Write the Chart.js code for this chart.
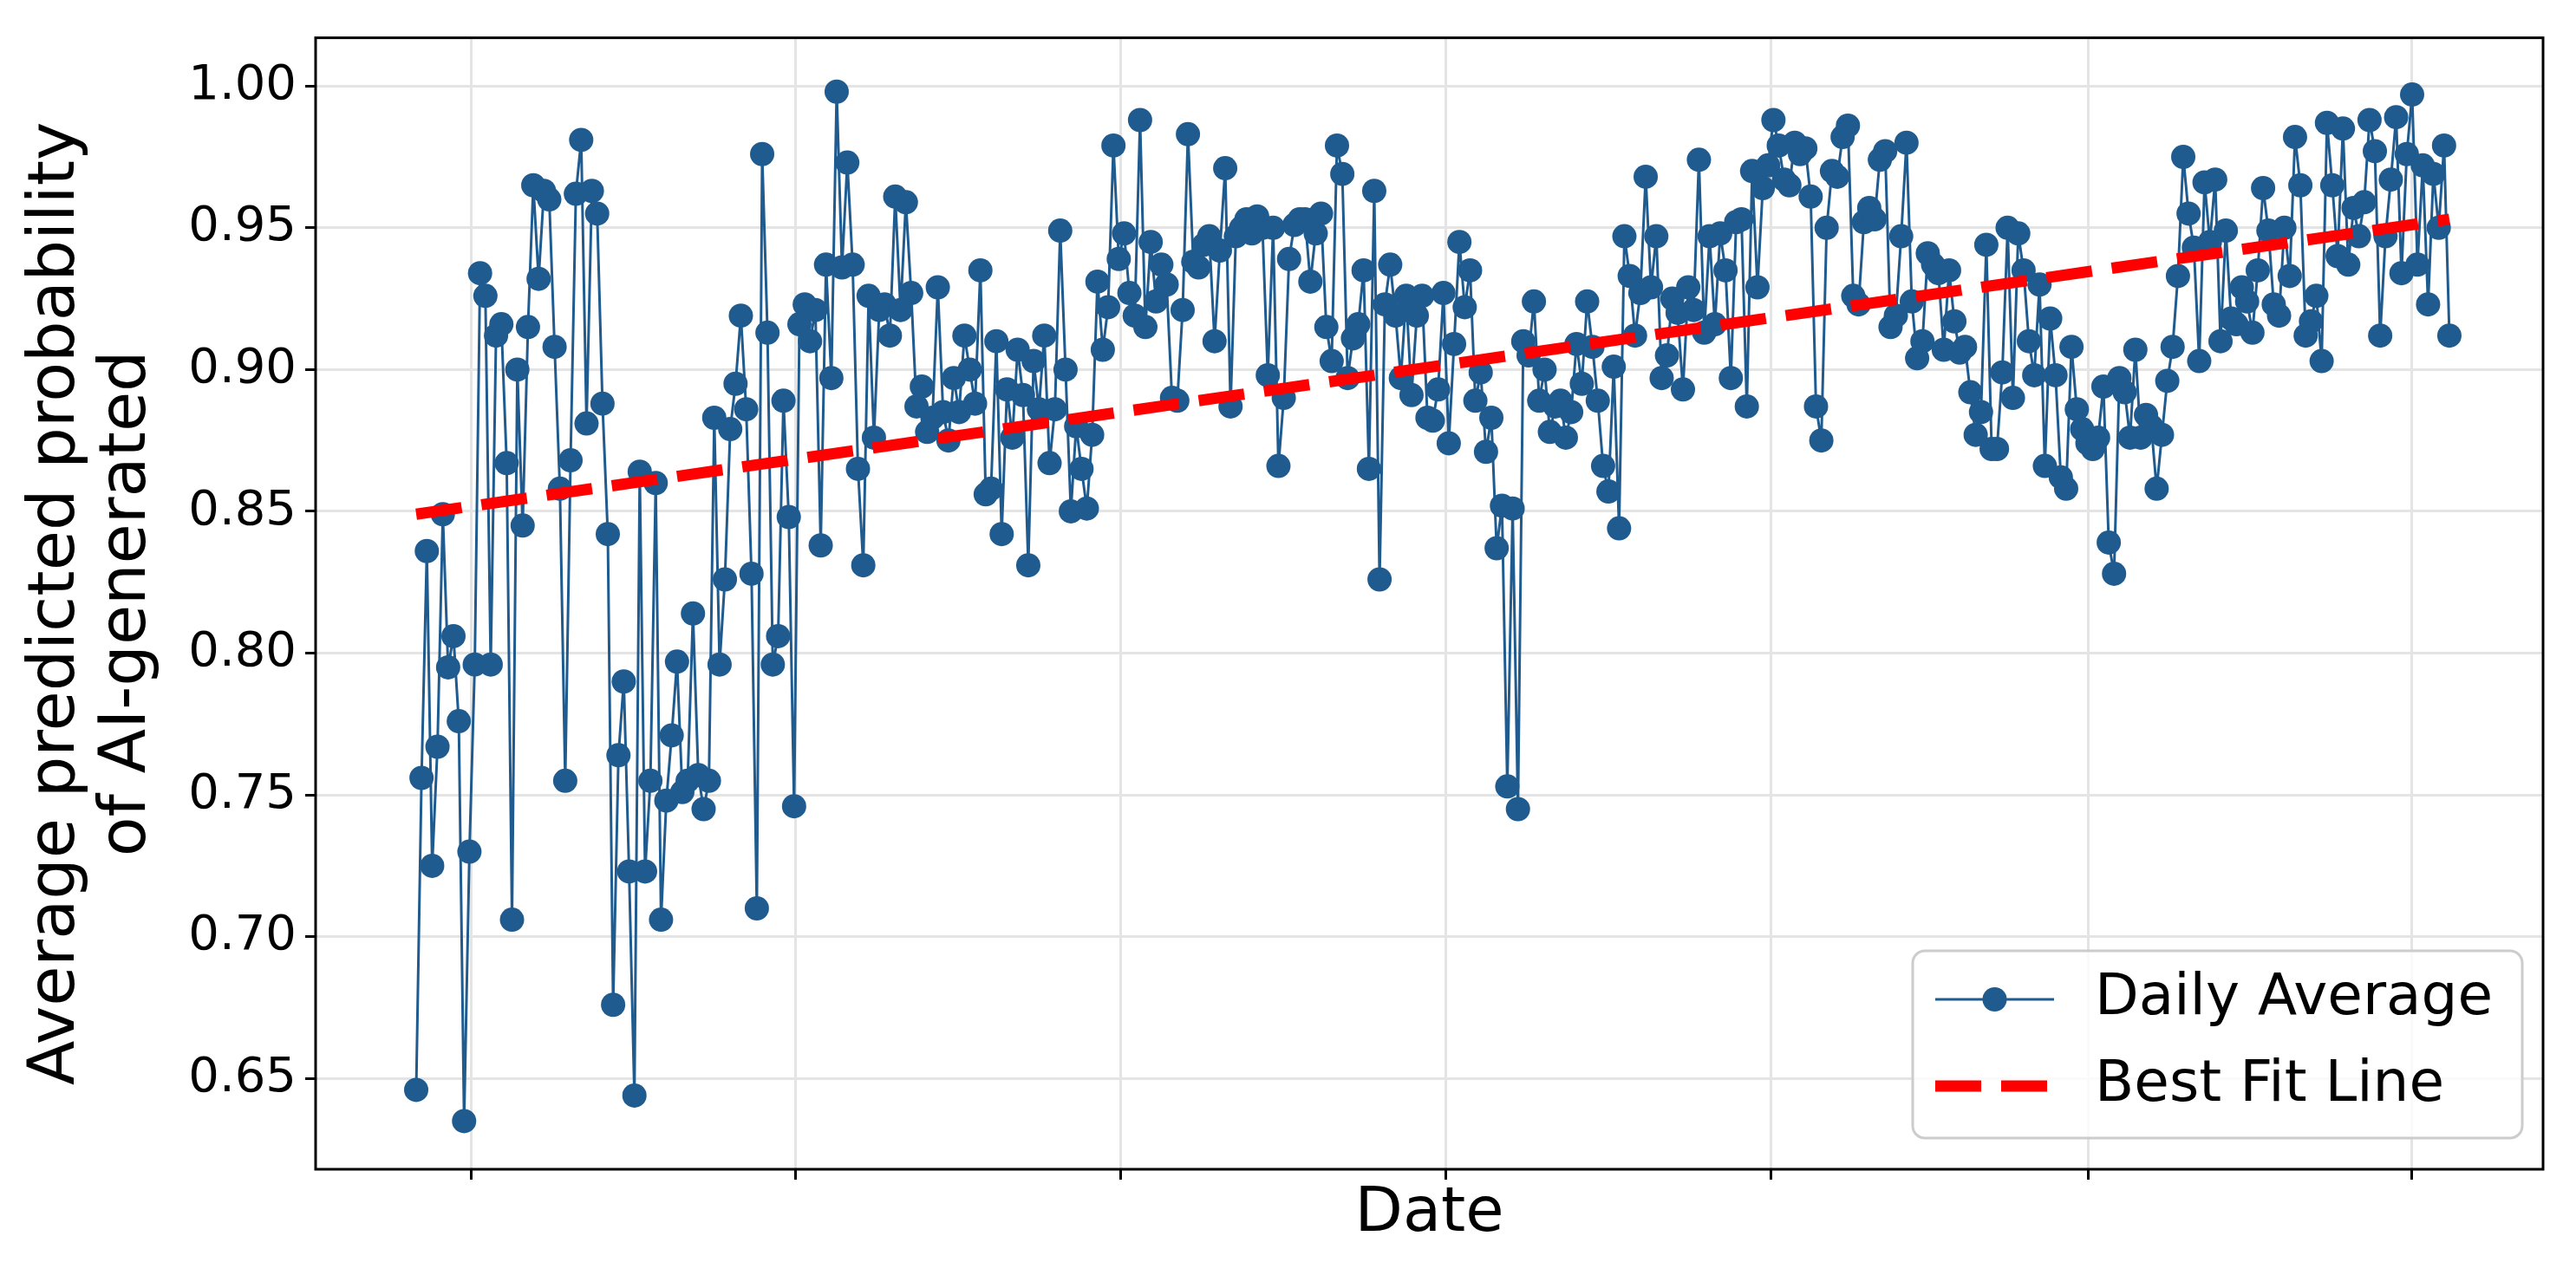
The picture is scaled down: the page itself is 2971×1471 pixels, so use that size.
<!DOCTYPE html>
<html>
<head>
<meta charset="utf-8">
<script src="https://cdn.jsdelivr.net/npm/chart.js@4.4.1/dist/chart.umd.min.js"></script>
<style>
  html, body { margin: 0; padding: 0; background: #fff; }
  #wrap { width: 2971px; height: 1471px; }
</style>
</head>
<body>
<div id="wrap"><canvas id="chart" width="2971" height="1471"></canvas></div>
<script>
// daily average predicted probability, one value per day
const dailyAverage = [
  0.646, 0.756, 0.836, 0.725, 0.767, 0.849, 0.795, 0.806, 0.776, 0.635,
  0.730, 0.796, 0.934, 0.926, 0.796, 0.912, 0.916, 0.867, 0.706, 0.900,
  0.845, 0.915, 0.965, 0.932, 0.963, 0.960, 0.908, 0.858, 0.755, 0.868,
  0.962, 0.981, 0.881, 0.963, 0.955, 0.888, 0.842, 0.676, 0.764, 0.790,
  0.723, 0.644, 0.864, 0.723, 0.755, 0.860, 0.706, 0.748, 0.771, 0.797,
  0.751, 0.755, 0.814, 0.757, 0.745, 0.755, 0.883, 0.796, 0.826, 0.879,
  0.895, 0.919, 0.886, 0.828, 0.710, 0.976, 0.913, 0.796, 0.806, 0.889,
  0.848, 0.746, 0.916, 0.923, 0.910, 0.921, 0.838, 0.937, 0.897, 0.998,
  0.936, 0.973, 0.937, 0.865, 0.831, 0.926, 0.876, 0.921, 0.923, 0.912,
  0.961, 0.921, 0.959, 0.927, 0.887, 0.894, 0.878, 0.883, 0.929, 0.885,
  0.875, 0.897, 0.885, 0.912, 0.900, 0.888, 0.935, 0.856, 0.858, 0.910,
  0.842, 0.893, 0.876, 0.907, 0.891, 0.831, 0.903, 0.886, 0.912, 0.867,
  0.886, 0.949, 0.900, 0.850, 0.880, 0.865, 0.851, 0.877, 0.931, 0.907,
  0.922, 0.979, 0.939, 0.948, 0.927, 0.919, 0.988, 0.915, 0.945, 0.924,
  0.937, 0.930, 0.890, 0.889, 0.921, 0.983, 0.938, 0.936, 0.944, 0.947,
  0.910, 0.942, 0.971, 0.887, 0.947, 0.950, 0.953, 0.948, 0.954, 0.950,
  0.898, 0.950, 0.866, 0.890, 0.939, 0.951, 0.953, 0.953, 0.931, 0.948,
  0.955, 0.915, 0.903, 0.979, 0.969, 0.897, 0.911, 0.916, 0.935, 0.865,
  0.963, 0.826, 0.923, 0.937, 0.919, 0.897, 0.926, 0.891, 0.919, 0.926,
  0.883, 0.882, 0.893, 0.927, 0.874, 0.909, 0.945, 0.922, 0.935, 0.889,
  0.899, 0.871, 0.883, 0.837, 0.852, 0.753, 0.851, 0.745, 0.910, 0.905,
  0.924, 0.889, 0.900, 0.878, 0.887, 0.889, 0.876, 0.885, 0.909, 0.895,
  0.924, 0.908, 0.889, 0.866, 0.857, 0.901, 0.844, 0.947, 0.933, 0.912,
  0.927, 0.968, 0.929, 0.947, 0.897, 0.905, 0.925, 0.920, 0.893, 0.929,
  0.921, 0.974, 0.913, 0.947, 0.916, 0.948, 0.935, 0.897, 0.952, 0.953,
  0.887, 0.970, 0.929, 0.964, 0.972, 0.988, 0.979, 0.967, 0.965, 0.980,
  0.976, 0.978, 0.961, 0.887, 0.875, 0.950, 0.970, 0.968, 0.982, 0.986,
  0.926, 0.923, 0.952, 0.957, 0.953, 0.974, 0.977, 0.915, 0.919, 0.947,
  0.980, 0.924, 0.904, 0.910, 0.941, 0.937, 0.934, 0.907, 0.935, 0.917,
  0.906, 0.908, 0.892, 0.877, 0.885, 0.944, 0.872, 0.872, 0.899, 0.950,
  0.890, 0.948, 0.935, 0.910, 0.898, 0.930, 0.866, 0.918, 0.898, 0.862,
  0.858, 0.908, 0.886, 0.879, 0.874, 0.872, 0.876, 0.894, 0.839, 0.828,
  0.897, 0.892, 0.876, 0.907, 0.876, 0.884, 0.880, 0.858, 0.877, 0.896,
  0.908,
  0.933, 0.975, 0.955, 0.943, 0.903, 0.966, 0.945, 0.967, 0.910, 0.949,
  0.918, 0.916, 0.929, 0.924, 0.913, 0.935, 0.964, 0.949, 0.923, 0.919,
  0.950, 0.933, 0.982, 0.965, 0.912, 0.917, 0.926, 0.903, 0.987, 0.965,
  0.940, 0.985, 0.937, 0.957, 0.947, 0.959, 0.988, 0.977, 0.912, 0.947,
  0.967, 0.989, 0.934, 0.976, 0.997, 0.937, 0.972, 0.923, 0.969, 0.950,
  0.979, 0.912
];

// best fit line, value at the first and at the last day
const fitEnds = [0.849, 0.953];

// vertical grid lines (day offsets of the hidden date ticks) and the visible day range
const gridDays = [10.4, 71.2, 132.3, 193.4, 254.6, 314.1, 375.0];
const dayRange = [-18.9, 399.6];
const yTicks = [0.65, 0.70, 0.75, 0.80, 0.85, 0.90, 0.95, 1.00];
const seriesLabels = ['Daily Average', 'Best Fit Line'];

const FONT = "'DejaVu Sans', sans-serif";
const BLUE = '#1f5b8e';

const lastDay = dailyAverage.length - 1;
const dailyPoints = dailyAverage.map((v, i) => ({ x: i, y: v }));
const fitPoints = [
  { x: 0, y: fitEnds[0] },
  { x: lastDay, y: fitEnds[1] },
];

// black box round the plot, like the axes spines
const framePlugin = {
  id: 'frame',
  afterDatasetsDraw(chart) {
    const { ctx, chartArea: a } = chart;
    ctx.save();
    ctx.strokeStyle = '#000';
    ctx.lineWidth = 3;
    ctx.strokeRect(a.left, a.top, a.right - a.left, a.bottom - a.top);
    ctx.restore();
  },
};

// legend in the lower right corner, drawn over the data
const cornerLegend = {
  id: 'cornerLegend',
  afterDraw(chart) {
    const { ctx, chartArea: a } = chart;
    const w = 703, h = 216;
    const x = a.right - 24 - w;
    const y = a.bottom - 36 - h;
    ctx.save();
    ctx.fillStyle = 'rgba(255,255,255,0.8)';
    ctx.strokeStyle = '#cccccc';
    ctx.lineWidth = 3;
    ctx.beginPath();
    ctx.roundRect(x, y, w, h, 14);
    ctx.fill();
    ctx.stroke();

    chart.data.datasets.forEach((ds, i) => {
      const cy = y + 56 + i * 100;
      const x0 = x + 26, x1 = x + 163;
      ctx.strokeStyle = ds.borderColor;
      ctx.lineWidth = ds.borderWidth;
      ctx.setLineDash(ds.borderDash || []);
      ctx.beginPath();
      ctx.moveTo(x0, cy);
      ctx.lineTo(x1, cy);
      ctx.stroke();
      ctx.setLineDash([]);
      if (ds.pointRadius > 0) {
        ctx.fillStyle = ds.pointBackgroundColor;
        ctx.beginPath();
        ctx.arc((x0 + x1) / 2, cy, ds.pointRadius, 0, Math.PI * 2);
        ctx.fill();
      }
      ctx.fillStyle = '#000';
      ctx.font = `66px ${FONT}`;
      ctx.textAlign = 'left';
      ctx.textBaseline = 'middle';
      ctx.fillText(ds.label, x + 210, cy);
    });
    ctx.restore();
  },
};

const gridStyle = {
  color: '#e4e4e4',
  lineWidth: 3,
  tickLength: 12,
  tickColor: '#000',
  tickWidth: 3,
};

new Chart(document.getElementById('chart'), {
  type: 'line',
  data: {
    datasets: [
      {
        label: seriesLabels[0],
        data: dailyPoints,
        borderColor: BLUE,
        backgroundColor: BLUE,
        borderWidth: 3,
        pointRadius: 14,
        pointBackgroundColor: BLUE,
        pointBorderWidth: 0,
        tension: 0,
        order: 1,
      },
      {
        label: seriesLabels[1],
        data: fitPoints,
        borderColor: '#ff0000',
        borderWidth: 13,
        borderDash: [53, 23],
        borderCapStyle: 'butt',
        pointRadius: 0,
        order: 0,
      },
    ],
  },
  options: {
    responsive: false,
    animation: false,
    devicePixelRatio: 1,
    layout: { padding: { left: 0, top: 30, right: 38, bottom: 0 } },
    plugins: {
      legend: { display: false },
      tooltip: { enabled: false },
    },
    scales: {
      x: {
        type: 'linear',
        min: dayRange[0],
        max: dayRange[1],
        afterBuildTicks: (s) => { s.ticks = gridDays.map((v) => ({ value: v })); },
        afterFit: (s) => { s.height = 122; },
        ticks: { display: false },
        grid: gridStyle,
        border: { display: false },
        title: {
          display: true,
          text: 'Date',
          color: '#000',
          font: { family: FONT, size: 72 },
          padding: { top: 0, bottom: 27 },
        },
      },
      y: {
        type: 'linear',
        min: 0.618,
        max: 1.017,
        afterBuildTicks: (s) => { s.ticks = yTicks.map((v) => ({ value: v })); },
        afterFit: (s) => { s.width = 364; },
        ticks: {
          color: '#000',
          font: { family: FONT, size: 56 },
          padding: 10,
          callback: (v) => v.toFixed(2),
        },
        grid: gridStyle,
        border: { display: false },
        title: {
          display: true,
          text: ['Average predicted probability', 'of AI-generated'],
          color: '#000',
          font: { family: FONT, size: 75, lineHeight: 1.1 },
          padding: { top: 24, bottom: 0 },
        },
      },
    },
  },
  plugins: [framePlugin, cornerLegend],
});
</script>
</body>
</html>
